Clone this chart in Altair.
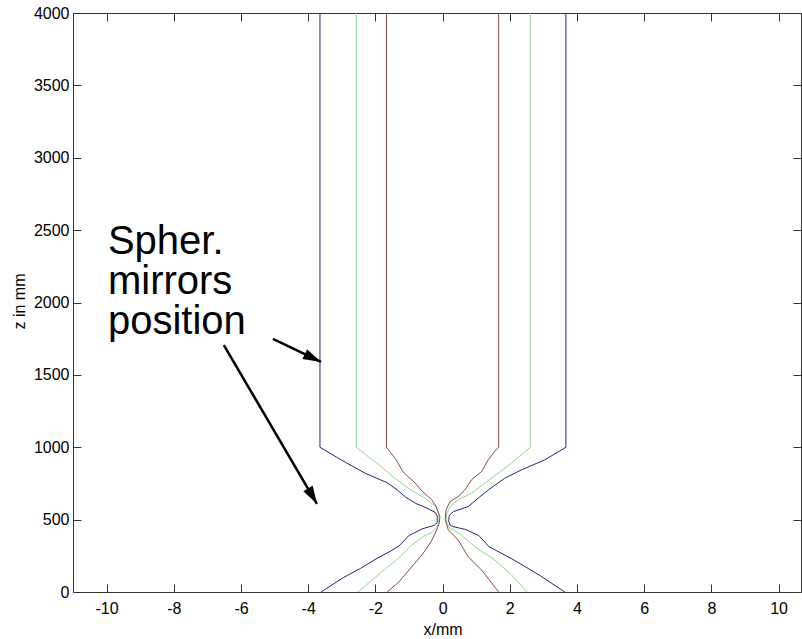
import altair as alt
import pandas as pd

# ---- tick values ----
X_TICKS = [-10, -8, -6, -4, -2, 0, 2, 4, 6, 8, 10]
Z_TICKS = [0, 500, 1000, 1500, 2000, 2500, 3000, 3500, 4000]

# ---- beam envelopes (x in mm, z in mm) ----
blue_left_x = [-3.65, -3.65, -3.0, -2.3, -1.65, -1.35, -1.1, -0.8, -0.45, -0.22, -0.16, -0.16, -0.25, -0.6, -1.0, -1.3, -1.55, -1.95, -2.45, -2.95, -3.62]
blue_left_z = [4000, 1000, 910, 820, 755, 705, 655, 612, 578, 550, 525, 480, 460, 437, 390, 318, 282, 233, 162, 100, 0]
blue_right_x = [3.67, 3.67, 3.04, 2.35, 1.85, 1.36, 1.06, 0.76, 0.32, 0.2, 0.18, 0.22, 0.31, 0.68, 1.08, 1.38, 2.07, 2.87, 3.64]
blue_right_z = [4000, 1000, 913, 844, 786, 705, 648, 590, 555, 530, 490, 463, 452, 432, 390, 313, 228, 118, 0]

green_left_x = [-2.57, -2.57, -2.3, -1.9, -1.45, -0.95, -0.5, -0.25, -0.13, -0.1, -0.15, -0.3, -0.58, -0.95, -1.33, -1.86, -2.52]
green_left_z = [4000, 1000, 950, 880, 790, 705, 645, 600, 555, 505, 460, 413, 383, 318, 230, 129, 0]
green_right_x = [2.61, 2.61, 2.45, 2.05, 1.65, 1.26, 0.86, 0.46, 0.22, 0.12, 0.12, 0.22, 0.56, 0.96, 1.56, 2.05, 2.52]
green_right_z = [4000, 1000, 970, 890, 821, 752, 683, 636, 590, 540, 480, 440, 394, 313, 221, 118, 0]

red_left_x = [-1.67, -1.67, -1.38, -1.18, -0.85, -0.58, -0.33, -0.19, -0.08, -0.1, -0.2, -0.35, -0.6, -0.97, -1.3, -1.65]
red_left_z = [4000, 1000, 913, 830, 760, 690, 640, 590, 520, 475, 415, 345, 260, 160, 70, 0]
red_right_x = [1.67, 1.67, 1.56, 1.36, 1.16, 0.86, 0.66, 0.46, 0.22, 0.1, 0.08, 0.17, 0.46, 0.76, 1.16, 1.67]
red_right_z = [4000, 1000, 975, 913, 832, 775, 705, 659, 624, 567, 500, 429, 360, 244, 152, 0]

# ---- annotation ----
label_text = ["Spher.\nmirrors\nposition"]
label_x = [-9.96]
label_z = [2335]

arrow_names = ["a1", "a1", "a2", "a2"]
arrow_x = [-5.05, -3.62, -6.51, -3.74]
arrow_z = [1748, 1589, 1706, 608]
head_x = [-3.86, -3.87]
head_z = [1616, 662]
head_angle = [115.6, 149.7]

# ---- build tables ----
rows = []
for name, beam, xs, zs in [
    ("bl", "blue", blue_left_x, blue_left_z),
    ("br", "blue", blue_right_x, blue_right_z),
    ("gl", "green", green_left_x, green_left_z),
    ("gr", "green", green_right_x, green_right_z),
    ("rl", "red", red_left_x, red_left_z),
    ("rr", "red", red_right_x, red_right_z),
]:
    for i, (x, z) in enumerate(zip(xs, zs)):
        rows.append({"path": name, "beam": beam, "x": x, "z": z, "order": i})
df = pd.DataFrame(rows)

text_df = pd.DataFrame({"text": label_text, "x": label_x, "z": label_z})
arrow_df = pd.DataFrame({"arrow": arrow_names, "x": arrow_x, "z": arrow_z,
                         "order": [0, 1, 0, 1]})
head_df = pd.DataFrame({"x": head_x, "z": head_z, "angle": head_angle})

W, H = 728, 579
FONT = "Liberation Sans"
AX = "#333333"
LBL = "'' + datum.value"

xsc = alt.Scale(domain=[-11, 10.667], nice=False, zero=False)
ysc = alt.Scale(domain=[0, 4000], nice=False, zero=False)

color_scale = alt.Scale(domain=["blue", "green", "red"],
                        range=["#26266e", "#92d692", "#8b4848"])

# main axes: labels + domain on bottom/left
lines = alt.Chart(df).mark_line(strokeWidth=1, clip=True).encode(
    x=alt.X("x:Q", scale=xsc, axis=alt.Axis(
        orient="bottom", values=X_TICKS, ticks=False, tickSize=0, grid=False,
        labelExpr=LBL,
        labelPadding=8, labelFont=FONT, labelFontSize=16, labelColor="black",
        domainColor=AX, title="x/mm", titleFont=FONT, titleFontSize=16,
        titleFontWeight="normal", titleColor="black",
        titleX=369.6, titleY=42, titleAlign="center", titleBaseline="alphabetic")),
    y=alt.Y("z:Q", scale=ysc, axis=alt.Axis(
        orient="left", values=Z_TICKS, ticks=False, tickSize=0, grid=False,
        labelExpr=LBL,
        labelPadding=4, labelFont=FONT, labelFontSize=16, labelColor="black",
        domainColor=AX, title="z in mm", titleFont=FONT, titleFontSize=16,
        titleFontWeight="normal", titleColor="black", titleAngle=270,
        titleX=-49, titleY=288, titleAlign="center", titleBaseline="alphabetic")),
    color=alt.Color("beam:N", scale=color_scale, legend=None),
    detail="path:N",
    order="order:Q",
)

# top + right frame with inward ticks
text_layer = alt.Chart(text_df).mark_text(
    align="left", baseline="alphabetic", font=FONT, fontSize=40, color="black",
    lineBreak="\n", lineHeight=40
).encode(
    x=alt.X("x:Q", scale=xsc, axis=alt.Axis(
        orient="bottom", offset=-H, values=X_TICKS, labels=False, ticks=True,
        tickSize=8, tickColor=AX, domainColor=AX, grid=False, title=None)),
    y=alt.Y("z:Q", scale=ysc, axis=alt.Axis(
        orient="left", offset=-W, values=Z_TICKS, labels=False, ticks=True,
        tickSize=8, tickColor=AX, domainColor=AX, grid=False, title=None)),
    text="text:N",
)

# inward ticks on bottom + left
arrow_lines = alt.Chart(arrow_df).mark_line(strokeWidth=2.5, color="black").encode(
    x=alt.X("x:Q", scale=xsc, axis=alt.Axis(
        orient="top", offset=-H, values=X_TICKS, labels=False, ticks=True,
        tickSize=8, tickColor=AX, domain=False, grid=False, title=None)),
    y=alt.Y("z:Q", scale=ysc, axis=alt.Axis(
        orient="right", offset=-W, values=Z_TICKS, labels=False, ticks=True,
        tickSize=8, tickColor=AX, domain=False, grid=False, title=None)),
    detail="arrow:N",
    order="order:Q",
)

heads = alt.Chart(head_df).mark_point(
    shape="M0,-1L0.6,1L-0.6,1Z", filled=True, color="black", opacity=1, size=324
).encode(
    x=alt.X("x:Q", scale=xsc, axis=None),
    y=alt.Y("z:Q", scale=ysc, axis=None),
    angle=alt.Angle("angle:Q", scale=None),
)

chart = alt.layer(lines, text_layer, arrow_lines, heads).resolve_axis(
    x="independent", y="independent"
).properties(
    width=W, height=H,
    padding={"left": 73, "top": 13, "right": 1, "bottom": 47},
    autosize=alt.AutoSizeParams(type="none"),
    background="white",
).configure_view(stroke=None)

chart.save("out.html", embed_options={"renderer": "svg", "actions": False})
